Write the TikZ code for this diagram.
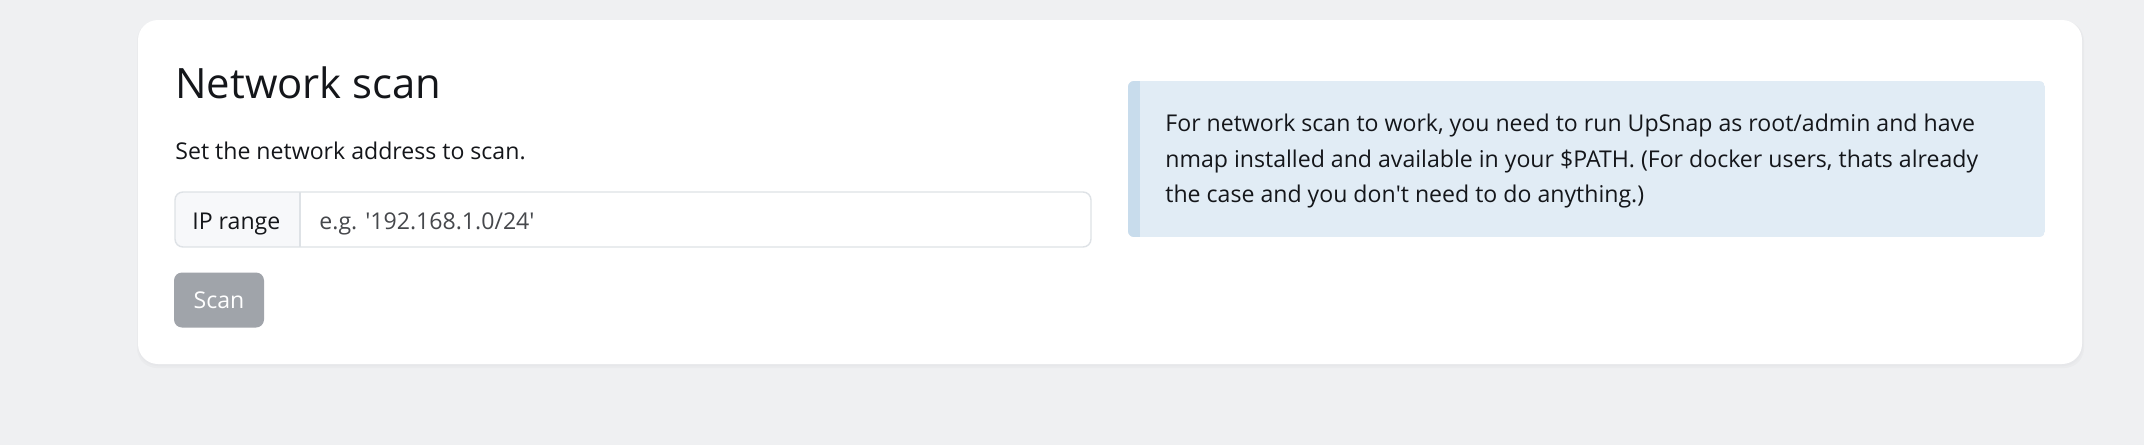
\documentclass[tikz,border=0pt]{standalone}
\usepackage{fontspec}
\setmainfont{Open Sans}

\definecolor{pagebg}{RGB}{239,240,242}
\definecolor{cardshadow}{RGB}{230,231,234}
\definecolor{ink}{RGB}{20,22,26}
\definecolor{fieldline}{RGB}{222,226,230}
\definecolor{addonbg}{RGB}{247,248,250}
\definecolor{placeholder}{RGB}{70,72,76}
\definecolor{btngray}{RGB}{160,164,170}
\definecolor{notebg}{RGB}{225,236,245}
\definecolor{notebar}{RGB}{200,220,236}

\begin{document}
\begin{tikzpicture}[x=0.5pt,y=-0.5pt,
		txt/.style={anchor=base west,inner sep=0pt,text=ink,font=\fontsize{11.55pt}{14pt}\selectfont},
		button/.style={fill=btngray,text=white,rounded corners=4pt,minimum width=45pt,minimum height=27.5pt,inner sep=0pt,font=\fontsize{11.55pt}{14pt}\selectfont}]
		\useasboundingbox (0,0) rectangle (2144,445);
		\fill[pagebg] (0,0) rectangle (2144,445);

		% card with a soft shadow
		\fill[cardshadow!60!pagebg,rounded corners=10pt] (137,21) rectangle (2084,368);
		\fill[cardshadow,rounded corners=10pt] (138,21) rectangle (2083,366);
		\fill[white,rounded corners=10pt] (138,20) rectangle (2082,364);

		\node[txt,font=\fontsize{20.9pt}{24pt}\selectfont] (title) at (175,98) {Network scan};
		\node[txt] (hint) at (175,159) {Set the network address to scan.};

		% input group
		\begin{scope}
				\clip[rounded corners=4pt] (175,192) rectangle (1091,247);
				\fill[addonbg] (175,192) rectangle (300,247);
			\end{scope}
		\draw[fieldline,line width=0.7pt,rounded corners=4pt] (175,192) rectangle (1091,247);
		\draw[fieldline,line width=0.7pt] (300,192) -- (300,247);
		\node[txt] (iprange) at (192,229) {IP range};
		\node[txt,text=placeholder] (ipfield) at (319,229) {e.g. \textquotesingle192.168.1.0/24\textquotesingle};

		\node[button] (scan) at (219,300) {Scan};

		% info box on the right
		\begin{scope}
				\clip[rounded corners=3pt] (1128,81) rectangle (2045,237);
				\fill[notebg] (1128,81) rectangle (2045,237);
				\fill[notebar] (1128,81) rectangle (1140,237);
			\end{scope}
		\foreach \line [count=\i] in {{For network scan to work, you need to run UpSnap as root/admin and have},
				{nmap installed and available in your \$PATH. (For docker users, thats already},
				{the case and you don\textquotesingle t need to do anything.)}} {
				\node[txt] (note\i) at (1165,{96+35.5*\i}) {\line};
			}

	\end{tikzpicture}
\end{document}
